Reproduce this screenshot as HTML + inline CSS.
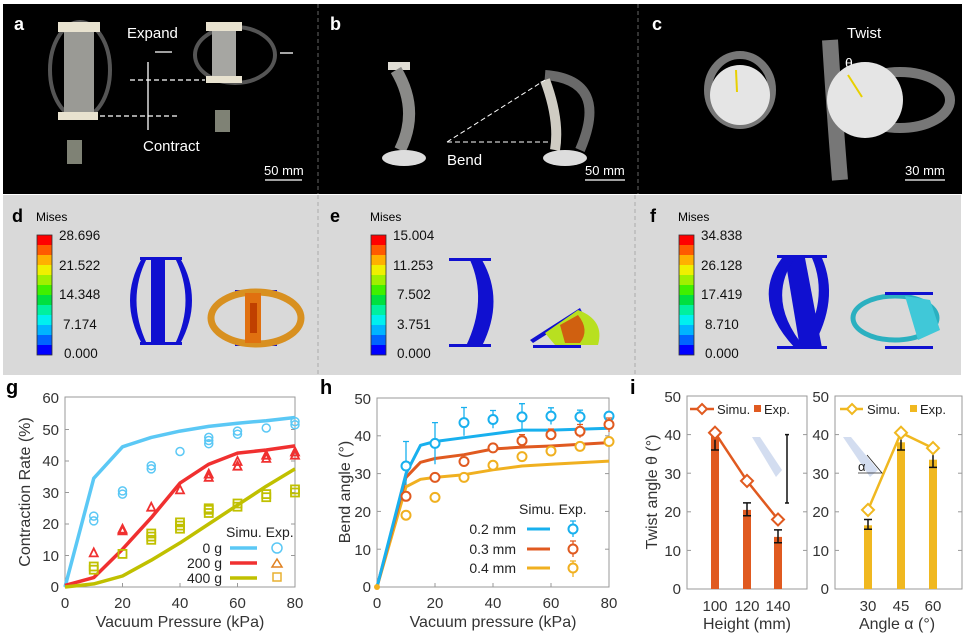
<!DOCTYPE html>
<html><head><meta charset="utf-8"><style>
html,body{margin:0;padding:0;background:#fff;}
svg{display:block;font-family:"Liberation Sans",sans-serif;}
</style></head><body>
<svg width="968" height="634" viewBox="0 0 968 634" xmlns="http://www.w3.org/2000/svg">
<rect x="0" y="0" width="968" height="634" fill="#fff"/>
<!-- top photo row -->
<rect x="3" y="4" width="959" height="190" fill="#000"/>
<line x1="318" y1="4" x2="318" y2="194" stroke="#666" stroke-dasharray="4,3"/>
<line x1="638" y1="4" x2="638" y2="194" stroke="#666" stroke-dasharray="4,3"/>
<g fill="#fff" font-size="18" font-weight="bold"><text x="14" y="30">a</text><text x="330" y="30">b</text><text x="652" y="30">c</text></g>
<g>
<ellipse cx="80" cy="70" rx="30" ry="48" fill="none" stroke="#555" stroke-width="4"/>
<rect x="64" y="30" width="30" height="85" fill="#9a9a95"/>
<rect x="58" y="22" width="42" height="10" fill="#e8e2cf"/>
<rect x="58" y="112" width="40" height="8" fill="#e8e2cf"/>
<rect x="67" y="140" width="15" height="24" fill="#7f8275"/>
<ellipse cx="235" cy="55" rx="40" ry="28" fill="none" stroke="#555" stroke-width="4"/>
<rect x="212" y="28" width="24" height="50" fill="#a6a6a2"/>
<rect x="206" y="22" width="36" height="9" fill="#e8e2cf"/>
<rect x="206" y="76" width="36" height="7" fill="#e8e2cf"/>
<rect x="215" y="110" width="15" height="22" fill="#7f8275"/>
</g>
<g stroke="#fff" stroke-width="1.3" fill="none">
<line x1="130" y1="80" x2="205" y2="80" stroke-dasharray="5,3"/>
<line x1="100" y1="116" x2="180" y2="116" stroke-dasharray="5,3"/>
<line x1="148" y1="62" x2="148" y2="130"/>
<line x1="155" y1="52" x2="172" y2="52"/><line x1="280" y1="53" x2="293" y2="53"/>
<line x1="265" y1="180" x2="302" y2="180"/><line x1="585" y1="180" x2="625" y2="180"/><line x1="905" y1="180" x2="945" y2="180"/>
</g>
<g fill="#fff" font-size="15"><text x="127" y="38">Expand</text><text x="143" y="151">Contract</text><text x="447" y="165">Bend</text><text x="847" y="38">Twist</text><text x="845" y="68" font-size="14">θ</text></g>
<g fill="#fff" font-size="13"><text x="264" y="175">50 mm</text><text x="585" y="175">50 mm</text><text x="905" y="175">30 mm</text></g>
<g>
<rect x="388" y="62" width="22" height="8" fill="#e0ddd5"/>
<path d="M396 70 Q420 110 400 150" stroke="#8a8a88" stroke-width="12" fill="none"/>
<ellipse cx="404" cy="158" rx="22" ry="8" fill="#ddd"/>
<path d="M545 75 Q610 80 580 150" stroke="#6a6a6a" stroke-width="10" fill="none"/>
<path d="M545 80 Q560 120 555 150" stroke="#cfccc3" stroke-width="10" fill="none"/>
<ellipse cx="565" cy="158" rx="22" ry="8" fill="#ddd"/>
<line x1="447" y1="142" x2="545" y2="80" stroke="#fff" stroke-dasharray="5,3"/>
<line x1="447" y1="142" x2="548" y2="142" stroke="#fff" stroke-dasharray="5,3"/>
</g>
<g>
<ellipse cx="740" cy="90" rx="32" ry="35" fill="none" stroke="#777" stroke-width="8"/>
<circle cx="740" cy="95" r="30" fill="#e5e5e5"/>
<line x1="736" y1="70" x2="737" y2="92" stroke="#e8d000" stroke-width="2"/>
<path d="M830 40 Q835 120 840 180" stroke="#777" stroke-width="16" fill="none"/>
<ellipse cx="900" cy="100" rx="50" ry="28" fill="none" stroke="#777" stroke-width="10"/>
<circle cx="865" cy="100" r="38" fill="#e5e5e5"/>
<line x1="848" y1="75" x2="862" y2="97" stroke="#e8d000" stroke-width="2"/>
</g>
<!-- middle FEA row -->
<rect x="3" y="195" width="958" height="180" fill="#d9d9d9"/>
<line x1="318" y1="195" x2="318" y2="375" stroke="#aaa" stroke-dasharray="4,3"/>
<line x1="635" y1="195" x2="635" y2="375" stroke="#aaa" stroke-dasharray="4,3"/>
<g font-size="18" font-weight="bold" fill="#000"><text x="12" y="222">d</text><text x="330" y="222">e</text><text x="650" y="222">f</text></g>
<g font-size="12" fill="#000"><text x="36" y="221">Mises</text><text x="370" y="221">Mises</text><text x="678" y="221">Mises</text></g>
<defs>
<g id="cb">
<rect x="0" y="0" width="15" height="10" fill="#ff0000"/><rect x="0" y="10" width="15" height="10" fill="#ff5a00"/><rect x="0" y="20" width="15" height="10" fill="#ffb000"/><rect x="0" y="30" width="15" height="10" fill="#f0f000"/><rect x="0" y="40" width="15" height="10" fill="#a0f000"/><rect x="0" y="50" width="15" height="10" fill="#40f000"/><rect x="0" y="60" width="15" height="10" fill="#00e040"/><rect x="0" y="70" width="15" height="10" fill="#00f0a0"/><rect x="0" y="80" width="15" height="10" fill="#00f0f0"/><rect x="0" y="90" width="15" height="10" fill="#00b4ff"/><rect x="0" y="100" width="15" height="10" fill="#0064ff"/><rect x="0" y="110" width="15" height="10" fill="#0000ff"/>
<rect x="0" y="0" width="15" height="120" fill="none" stroke="#333" stroke-width="0.8"/>
</g>
</defs>
<use href="#cb" x="37" y="235"/><use href="#cb" x="371" y="235"/><use href="#cb" x="679" y="235"/>
<g font-size="13.5" fill="#111">
<text x="59" y="240">28.696</text><text x="59" y="270">21.522</text><text x="59" y="299">14.348</text><text x="63" y="329">7.174</text><text x="64" y="358">0.000</text>
<text x="393" y="240">15.004</text><text x="393" y="270">11.253</text><text x="397" y="299">7.502</text><text x="397" y="329">3.751</text><text x="397" y="358">0.000</text>
<text x="701" y="240">34.838</text><text x="701" y="270">26.128</text><text x="701" y="299">17.419</text><text x="705" y="329">8.710</text><text x="705" y="358">0.000</text>
</g>
<g fill="#1010d0">
<rect x="140" y="257" width="42" height="3"/><rect x="140" y="342" width="42" height="3"/>
<rect x="151" y="259" width="14" height="85"/>
<path d="M142 258 Q118 300 142 344 L147 344 Q126 300 147 258Z"/>
<path d="M180 258 Q204 300 180 344 L175 344 Q196 300 175 258Z"/>
<rect x="235" y="290" width="42" height="3"/><rect x="235" y="343" width="42" height="3"/>
</g>
<ellipse cx="256" cy="318" rx="45" ry="26" fill="none" stroke="#d89020" stroke-width="7"/>
<rect x="245" y="293" width="16" height="50" fill="#e07010"/>
<rect x="250" y="303" width="7" height="30" fill="#c04000"/>
<g fill="#1010d0">
<rect x="449" y="258" width="42" height="3"/><rect x="449" y="344" width="42" height="3"/>
<path d="M482 260 Q505 300 482 346 L466 346 Q488 300 470 260Z"/>
<path d="M530 340 L580 308 L582 312 L533 343Z"/>
<rect x="533" y="345" width="48" height="3"/>
</g>
<path d="M545 333 L578 310 Q605 320 598 345 L555 345Z" fill="#b8e020"/>
<path d="M560 325 L578 315 Q590 330 580 343 L565 343Z" fill="#d06010"/>
<g fill="#1010d0">
<rect x="777" y="255" width="50" height="3"/><rect x="777" y="346" width="50" height="3"/>
<path d="M785 258 L805 258 L822 348 L800 348Z"/>
<path d="M782 258 Q750 300 795 348 L805 348 Q765 300 795 258Z"/>
<path d="M822 258 Q840 300 812 348 L800 348 Q830 300 812 258Z"/>
</g>
<ellipse cx="895" cy="318" rx="42" ry="22" fill="none" stroke="#2bb0c0" stroke-width="5"/>
<path d="M905 296 L930 300 L940 330 L918 340Z" fill="#40c8d8"/>
<rect x="885" y="292" width="48" height="3" fill="#1010d0"/><rect x="885" y="346" width="48" height="3" fill="#1010d0"/>
<!-- chart g -->
<text x="6" y="394" font-size="20" font-weight="bold">g</text>
<rect x="65" y="397" width="230" height="190" fill="none" stroke="#999" stroke-width="1"/>
<g stroke="#999"><line x1="65" y1="555.5" x2="69" y2="555.5"/><line x1="65" y1="524" x2="69" y2="524"/><line x1="65" y1="492.5" x2="69" y2="492.5"/><line x1="65" y1="461" x2="69" y2="461"/><line x1="65" y1="429.5" x2="69" y2="429.5"/>
<line x1="291" y1="555.5" x2="295" y2="555.5"/><line x1="291" y1="524" x2="295" y2="524"/><line x1="291" y1="492.5" x2="295" y2="492.5"/><line x1="291" y1="461" x2="295" y2="461"/><line x1="291" y1="429.5" x2="295" y2="429.5"/>
<line x1="122.5" y1="587" x2="122.5" y2="583"/><line x1="180" y1="587" x2="180" y2="583"/><line x1="237.5" y1="587" x2="237.5" y2="583"/></g>
<g font-size="15" fill="#333" text-anchor="end"><text x="59" y="403">60</text><text x="59" y="435">50</text><text x="59" y="466">40</text><text x="59" y="498">30</text><text x="59" y="529">20</text><text x="59" y="561">10</text><text x="59" y="592">0</text></g>
<g font-size="15" fill="#333" text-anchor="middle"><text x="65" y="608">0</text><text x="122.5" y="608">20</text><text x="180" y="608">40</text><text x="237.5" y="608">60</text><text x="295" y="608">80</text></g>
<text x="180" y="627" font-size="16" fill="#333" text-anchor="middle">Vacuum Pressure (kPa)</text>
<text transform="translate(30,492) rotate(-90)" font-size="16" fill="#333" text-anchor="middle">Contraction Rate (%)</text>
<g fill="none" stroke-width="3.5" stroke-linejoin="round">
<polyline stroke="#5bc8f5" points="65,587 93.75,478.3 122.5,446.8 151.25,437.4 180,431.1 208.75,426.4 237.5,423.2 266.25,420.7 295,417.5"/>
<polyline stroke="#f03030" points="65,585.4 93.75,577.6 122.5,549.2 151.25,517.7 180,483.1 208.75,464.2 237.5,453.1 266.25,450 295,445.9"/>
<polyline stroke="#c0c000" points="65,587 93.75,583.9 122.5,576 151.25,560.2 180,542.9 208.75,524 237.5,505.1 266.25,486.2 295,468.9"/>
</g>
<g fill="none" stroke="#5bc8f5" stroke-width="1.5">
<circle cx="93.75" cy="520.9" r="4"/><circle cx="93.75" cy="516.1" r="4"/><circle cx="122.5" cy="494.1" r="4"/><circle cx="122.5" cy="490.9" r="4"/><circle cx="151.25" cy="468.9" r="4"/><circle cx="151.25" cy="465.7" r="4"/><circle cx="180" cy="451.5" r="4"/><circle cx="208.75" cy="443.7" r="4"/><circle cx="208.75" cy="440.5" r="4"/><circle cx="208.75" cy="437.4" r="4"/><circle cx="237.5" cy="434.2" r="4"/><circle cx="237.5" cy="431.1" r="4"/><circle cx="266.25" cy="428" r="4"/><circle cx="295" cy="424.8" r="4"/><circle cx="295" cy="421.6" r="4"/>
<circle cx="277" cy="548" r="5"/>
</g>
<g fill="none" stroke="#f03030" stroke-width="1.8">
<path d="M89.75 556.4 L93.75 548.4 L97.75 556.4Z"/><path d="M118.5 534.3 L122.5 526.3 L126.5 534.3Z"/><path d="M118.5 532.7 L122.5 524.7 L126.5 532.7Z"/><path d="M147.25 510.7 L151.25 502.7 L155.25 510.7Z"/><path d="M176 493.4 L180 485.4 L184 493.4Z"/><path d="M204.75 480.8 L208.75 472.8 L212.75 480.8Z"/><path d="M204.75 477.6 L208.75 469.6 L212.75 477.6Z"/><path d="M233.5 469.7 L237.5 461.7 L241.5 469.7Z"/><path d="M233.5 465 L237.5 457 L241.5 465Z"/><path d="M262.25 461.9 L266.25 453.9 L270.25 461.9Z"/><path d="M262.25 458.7 L266.25 450.7 L270.25 458.7Z"/><path d="M291 458.7 L295 450.7 L299 458.7Z"/><path d="M291 455.5 L295 447.5 L299 455.5Z"/>
</g>
<path d="M272 567 L277 559 L282 567Z" fill="none" stroke="#e08020" stroke-width="1.5"/>
<g fill="none" stroke="#c0c000" stroke-width="1.8">
<rect x="89.75" y="565.7" width="8" height="8"/><rect x="89.75" y="562.5" width="8" height="8"/><rect x="118.5" y="549.9" width="8" height="8"/><rect x="147.25" y="535.8" width="8" height="8"/><rect x="147.25" y="532.6" width="8" height="8"/><rect x="147.25" y="529.5" width="8" height="8"/><rect x="176" y="524.7" width="8" height="8"/><rect x="176" y="521.6" width="8" height="8"/><rect x="176" y="518.4" width="8" height="8"/><rect x="204.75" y="509" width="8" height="8"/><rect x="204.75" y="505.8" width="8" height="8"/><rect x="204.75" y="504.3" width="8" height="8"/><rect x="233.5" y="502.7" width="8" height="8"/><rect x="233.5" y="499.5" width="8" height="8"/><rect x="262.25" y="493.2" width="8" height="8"/><rect x="262.25" y="490.1" width="8" height="8"/><rect x="291" y="488.5" width="8" height="8"/><rect x="291" y="485.4" width="8" height="8"/>
</g>
<rect x="273" y="573" width="8" height="8" fill="none" stroke="#e8b030" stroke-width="1.5"/>
<text x="226" y="537" font-size="14" fill="#222">Simu. Exp.</text>
<g font-size="14" fill="#222" text-anchor="end"><text x="222" y="553">0 g</text><text x="222" y="568">200 g</text><text x="222" y="583">400 g</text></g>
<g stroke-width="3.5"><line x1="230" y1="548" x2="257" y2="548" stroke="#5bc8f5"/><line x1="230" y1="563" x2="257" y2="563" stroke="#f03030"/><line x1="230" y1="578" x2="257" y2="578" stroke="#c0c000"/></g>
<!-- chart h -->
<text x="320" y="394" font-size="20" font-weight="bold">h</text>
<rect x="377" y="398" width="232" height="189" fill="none" stroke="#999"/>
<g stroke="#999"><line x1="377" y1="549.2" x2="381" y2="549.2"/><line x1="377" y1="511.4" x2="381" y2="511.4"/><line x1="377" y1="473.6" x2="381" y2="473.6"/><line x1="377" y1="435.8" x2="381" y2="435.8"/>
<line x1="605" y1="549.2" x2="609" y2="549.2"/><line x1="605" y1="511.4" x2="609" y2="511.4"/><line x1="605" y1="473.6" x2="609" y2="473.6"/><line x1="605" y1="435.8" x2="609" y2="435.8"/>
<line x1="435" y1="587" x2="435" y2="583"/><line x1="493" y1="587" x2="493" y2="583"/><line x1="551" y1="587" x2="551" y2="583"/></g>
<g font-size="15" fill="#333" text-anchor="end"><text x="371" y="404">50</text><text x="371" y="441">40</text><text x="371" y="479">30</text><text x="371" y="517">20</text><text x="371" y="555">10</text><text x="371" y="592">0</text></g>
<g font-size="15" fill="#333" text-anchor="middle"><text x="377" y="608">0</text><text x="435" y="608">20</text><text x="493" y="608">40</text><text x="551" y="608">60</text><text x="609" y="608">80</text></g>
<text x="493" y="627" font-size="16" fill="#333" text-anchor="middle">Vacuum pressure (kPa)</text>
<text transform="translate(350,492) rotate(-90)" font-size="16" fill="#333" text-anchor="middle">Bend angle (°)</text>
<g fill="none" stroke-width="3" stroke-linejoin="round">
<polyline stroke="#f0b020" points="377,587 406,486.8 420.5,479.3 435,477.4 464,474.7 493,469.8 522,466 551,464.2 609,461.1"/>
<polyline stroke="#e05a20" points="377,587 406,477.4 420.5,462.3 435,458.5 464,454.7 493,449 522,447.1 551,446 609,442.6"/>
<polyline stroke="#18b0ee" points="377,587 406,473.6 420.5,445.3 435,441.5 464,437.7 493,433.9 522,430.1 551,430.1 609,428.2"/>
</g>
<circle cx="377" cy="587" r="3" fill="#f0b020"/>
<g stroke="#18b0ee" stroke-width="1.3" fill="none">
<path d="M406 485V441.5M403 441.5h6M435 464.2V422.6M432 422.6h6M464 435.8V407.5M461 407.5h6M493 428.2V410.5M490 410.5h6M522 430.1V403.7M519 403.7h6M551 424.5V407.8M548 407.8h6M580 424.5V410.1M577 410.1h6"/>
</g>
<g stroke="#18b0ee" stroke-width="2" fill="#fff">
<circle cx="406" cy="466" r="4.5"/><circle cx="435" cy="443.4" r="4.5"/><circle cx="464" cy="422.6" r="4.5"/><circle cx="493" cy="419.5" r="4.5"/><circle cx="522" cy="416.9" r="4.5"/><circle cx="551" cy="416.1" r="4.5"/><circle cx="580" cy="416.9" r="4.5"/><circle cx="609" cy="416.1" r="4.5"/>
</g>
<g stroke="#e05a20" stroke-width="1.3" fill="none"><path d="M464 466V456.6M522 447.1V434.7M519 434.7h6M551 439.6V429M548 429h6M580 437.7V424.5M577 424.5h6M609 432V418M606 418h6"/></g>
<g stroke="#e05a20" stroke-width="2" fill="#fff">
<circle cx="406" cy="496.3" r="4.5"/><circle cx="435" cy="477.4" r="4.5"/><circle cx="464" cy="461.5" r="4.5"/><circle cx="493" cy="447.9" r="4.5"/><circle cx="522" cy="440.7" r="4.5"/><circle cx="551" cy="434.7" r="4.5"/><circle cx="580" cy="431.3" r="4.5"/><circle cx="609" cy="424.5" r="4.5"/>
</g>
<g stroke="#f0b020" stroke-width="2" fill="#fff">
<circle cx="406" cy="515.2" r="4.5"/><circle cx="435" cy="497.4" r="4.5"/><circle cx="464" cy="477.4" r="4.5"/><circle cx="493" cy="465.3" r="4.5"/><circle cx="522" cy="456.6" r="4.5"/><circle cx="551" cy="451" r="4.5"/><circle cx="580" cy="446.4" r="4.5"/><circle cx="609" cy="441.5" r="4.5"/>
</g>
<g font-size="14" fill="#222"><text x="519" y="514">Simu. Exp.</text></g>
<g font-size="14" fill="#222" text-anchor="end"><text x="516" y="534">0.2 mm</text><text x="516" y="554">0.3 mm</text><text x="516" y="573">0.4 mm</text></g>
<g stroke-width="3"><line x1="527" y1="529" x2="550" y2="529" stroke="#18b0ee"/><line x1="527" y1="549" x2="550" y2="549" stroke="#e05a20"/><line x1="527" y1="568" x2="550" y2="568" stroke="#f0b020"/></g>
<g stroke-width="1.3" fill="none"><path d="M573 521V537M570 521h6" stroke="#18b0ee"/><path d="M573 541V557M570 541h6" stroke="#e05a20"/><path d="M573 561V577M570 561h6" stroke="#f0b020"/></g>
<circle cx="573" cy="529" r="4.5" fill="#fff" stroke="#18b0ee" stroke-width="2"/><circle cx="573" cy="549" r="4.5" fill="#fff" stroke="#e05a20" stroke-width="2"/><circle cx="573" cy="568" r="4.5" fill="#fff" stroke="#f0b020" stroke-width="2"/>
<!-- chart i -->
<text x="630" y="394" font-size="20" font-weight="bold">i</text>
<rect x="687" y="396" width="120" height="193" fill="none" stroke="#999"/>
<rect x="835" y="396" width="127" height="193" fill="none" stroke="#999"/>
<g stroke="#999"><line x1="687" y1="550.4" x2="691" y2="550.4"/><line x1="687" y1="511.8" x2="691" y2="511.8"/><line x1="687" y1="473.2" x2="691" y2="473.2"/><line x1="687" y1="434.6" x2="691" y2="434.6"/>
<line x1="803" y1="550.4" x2="807" y2="550.4"/><line x1="803" y1="511.8" x2="807" y2="511.8"/><line x1="803" y1="473.2" x2="807" y2="473.2"/><line x1="803" y1="434.6" x2="807" y2="434.6"/>
<line x1="835" y1="550.4" x2="839" y2="550.4"/><line x1="835" y1="511.8" x2="839" y2="511.8"/><line x1="835" y1="473.2" x2="839" y2="473.2"/><line x1="835" y1="434.6" x2="839" y2="434.6"/>
<line x1="958" y1="550.4" x2="962" y2="550.4"/><line x1="958" y1="511.8" x2="962" y2="511.8"/><line x1="958" y1="473.2" x2="962" y2="473.2"/><line x1="958" y1="434.6" x2="962" y2="434.6"/></g>
<g font-size="15" fill="#333" text-anchor="end"><text x="681" y="402">50</text><text x="681" y="440">40</text><text x="681" y="479">30</text><text x="681" y="517">20</text><text x="681" y="556">10</text><text x="681" y="594">0</text>
<text x="829" y="402">50</text><text x="829" y="440">40</text><text x="829" y="479">30</text><text x="829" y="517">20</text><text x="829" y="556">10</text><text x="829" y="594">0</text></g>
<g font-size="15" fill="#333" text-anchor="middle"><text x="715" y="611">100</text><text x="747" y="611">120</text><text x="778" y="611">140</text><text x="868" y="611">30</text><text x="901" y="611">45</text><text x="933" y="611">60</text></g>
<text x="747" y="629" font-size="16" fill="#333" text-anchor="middle">Height (mm)</text>
<text x="897" y="629" font-size="16" fill="#333" text-anchor="middle">Angle α  (°)</text>
<text transform="translate(657,492) rotate(-90)" font-size="16" fill="#333" text-anchor="middle">Twist angle θ (°)</text>
<g fill="#e05a20"><rect x="711" y="434.6" width="8" height="154.4"/><rect x="743" y="509.9" width="8" height="79.1"/><rect x="774" y="536.9" width="8" height="52.1"/></g>
<g fill="#f0b820"><rect x="864" y="525.3" width="8" height="63.7"/><rect x="897" y="442.3" width="8" height="146.7"/><rect x="929" y="459.7" width="8" height="129.3"/></g>
<g stroke="#111" stroke-width="1.5"><path d="M715 450V434.6M711 450h8M711 434.6h8M747 515.7V502.9M743 515.7h8M743 502.9h8M778 542.7V529.9M774 542.7h8M774 529.9h8M868 529.2V519.5M864 529.2h8M864 519.5h8M901 450V434.6M897 450h8M897 434.6h8M933 467.4V450.8M929 467.4h8M929 450.8h8M787 434.6V503M785 434.6h4M785 503h4"/></g>
<polyline points="715,432.7 747,480.9 778,519.5" fill="none" stroke="#e05a20" stroke-width="2.5"/>
<polyline points="868,509.9 901,432.7 933,448.1" fill="none" stroke="#f0b820" stroke-width="2.5"/>
<g fill="#fff" stroke="#e05a20" stroke-width="2"><path d="M715 426.7l6 6l-6 6l-6 -6Z"/><path d="M747 474.9l6 6l-6 6l-6 -6Z"/><path d="M778 513.5l6 6l-6 6l-6 -6Z"/></g>
<g fill="#fff" stroke="#f0b820" stroke-width="2"><path d="M868 503.9l6 6l-6 6l-6 -6Z"/><path d="M901 426.7l6 6l-6 6l-6 -6Z"/><path d="M933 442.1l6 6l-6 6l-6 -6Z"/></g>
<path d="M752 437 L760 437 L782 470 L776 477Z" fill="#c8d4ec" opacity="0.8"/>
<path d="M843 437 L851 437 L878 470 L870 477Z" fill="#c8d4ec" opacity="0.8"/>
<path d="M858 473 H882 L867 455" fill="none" stroke="#222" stroke-width="0.8"/>
<text x="858" y="471" font-size="13" fill="#222">α</text>
<line x1="690" y1="409" x2="714" y2="409" stroke="#e05a20" stroke-width="2.5"/><path d="M702 404l5 5l-5 5l-5 -5Z" fill="#fff" stroke="#e05a20" stroke-width="2"/>
<text x="717" y="414" font-size="13" fill="#222">Simu.</text>
<rect x="754" y="405" width="7" height="7" fill="#e05a20"/>
<text x="764" y="414" font-size="13" fill="#222">Exp.</text>
<line x1="840" y1="409" x2="863" y2="409" stroke="#f0b820" stroke-width="2.5"/><path d="M852 404l5 5l-5 5l-5 -5Z" fill="#fff" stroke="#f0b820" stroke-width="2"/>
<text x="867" y="414" font-size="13" fill="#222">Simu.</text>
<rect x="910" y="405" width="7" height="7" fill="#f0b820"/>
<text x="920" y="414" font-size="13" fill="#222">Exp.</text>
</svg>
</body></html>
